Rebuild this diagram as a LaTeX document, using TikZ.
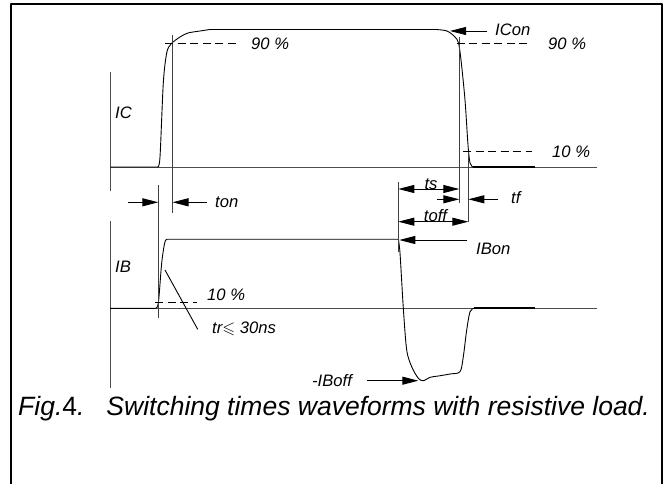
\documentclass[tikz,border=0pt]{standalone}
\usepackage{amssymb}
\usepackage{fontspec}
\setmainfont{Liberation Sans}
\usetikzlibrary{arrows.meta}
\begin{document}
\begin{tikzpicture}[x=1bp,y=-1bp, line join=round,
  lab/.style={font=\fontsize{16.6bp}{19bp}\selectfont\itshape, inner sep=0pt},
  wave/.style={line width=0.9bp},
  axis/.style={line width=0.9bp, black!70},
  guide/.style={line width=0.9bp, black!75},
  dashline/.style={dash pattern=on 8bp off 4.5bp, line width=0.8bp},
  arr/.style={-{Triangle[length=16bp,width=8bp]}, line width=0.9bp},
  darr/.style={{Triangle[length=16bp,width=8bp]}-{Triangle[length=16bp,width=8bp]}, line width=0.9bp},
]
\useasboundingbox (0,0) rectangle (667,484);
% frame
\draw[line width=2.5bp] (11.2,484) -- (11.2,3.8) -- (662.2,3.8) -- (662.2,484);

% axes
\draw[axis] (110,72) -- (110,191);
\draw[axis] (110,221) -- (110,388);
\draw[axis] (110,167) -- (597,167);
\draw[axis] (110,308.3) -- (597,308.3);

% IC waveform
\draw[wave] (110,167) -- (157.7,167)
  plot[smooth, tension=0.5] coordinates {(157.7,167) (160,157) (163.3,83) (166.7,53) (171,44) (180,37) (188,33) (200,31) (210,29.5)}
  -- (436,29.5)
  plot[smooth, tension=0.5] coordinates {(436,29.5) (447,31) (455,37) (458.5,43) (461,60) (465,100) (468,145) (470,163) (473,167)};
\draw[line width=1.8bp] (473,167) -- (535,167);

% IB waveform
\draw[wave] (110,308.3) -- (155,308.3)
  plot[smooth, tension=0.5] coordinates {(155,308.3) (158.3,303.3) (161.7,263) (165,241.7) (168.3,239.3)}
  -- (398.3,239.3)
  plot[smooth, tension=0.5] coordinates {(398.3,239.3) (400,253) (403.3,308) (406.7,350) (411.7,366.7) (418.3,378.3) (423.3,380.7) (430,377.3) (438.3,376) (450,374) (460,371.7) (463.3,356.7) (466.7,330) (470,311.7) (474,308.3)};
\draw[line width=1.8bp] (474,308.3) -- (535,308.3);

% guide lines
\coordinate (tonL) at (158.3,202.3);
\coordinate (tonR) at (172.5,202.3);
\draw[guide] (158.3,185) -- (158.3,318);
\draw[guide] (172.5,35) -- (172.5,213);
\draw[guide] (398.3,181.7) -- (398.3,252);
\draw[guide] (459.3,37) -- (459.3,203);
\draw[guide] (468.3,152) -- (468.3,222);

% dashed levels
\draw[dashline] (165,43.3) -- (238,43.3);
\draw[dashline] (456.7,43.3) -- (531.7,43.3);
\draw[dashline] (463,151.7) -- (532,151.7);
\draw[dashline] (155,302.3) -- (196.7,302.3);

% labels
\node[lab, anchor=west] (ic) at (115,113) {IC};
\node[lab, anchor=west] (ib) at (115,267) {IB};
\node[lab, anchor=west] (p90a) at (251,43.3) {90 \%};
\node[lab, anchor=west] (p90b) at (548,43.3) {90 \%};
\node[lab, anchor=west] (p10a) at (552,151.5) {10 \%};
\node[lab, anchor=west] (p10b) at (207,295) {10 \%};
\node[lab, anchor=west] (icon) at (495,29.5) {ICon};
\node[lab, anchor=west] (ton) at (215,202.3) {ton};
\node[lab, anchor=base] (ts) at (431,189.5) {ts};
\node[lab, anchor=west] (tf) at (511,198) {tf};
\node[lab, anchor=base] (toff) at (435.5,221.7) {toff};
\node[lab, anchor=west] (ibon) at (476,249) {IBon};
\node[lab, anchor=west] (tr) at (212,329.3) {tr$\leqslant$ 30ns};
\node[lab, anchor=west] (iboff) at (312,381) {-IBoff};
\node[font=\fontsize{26.5bp}{30bp}\selectfont\itshape, inner sep=0pt, anchor=west] (cap) at (18,409) {Fig.{\upshape 4}.\hspace{22bp}Switching times waveforms with resistive load.};

% arrows
\coordinate (tonLs) at (128.3,202.3);
\coordinate (tonRs) at (206.7,202.3);
\draw[arr] (tonLs) -- (tonL);
\draw[arr] (tonRs) -- (tonR);
\coordinate (tsL) at (398.3,189);
\coordinate (tsR) at (459.3,189);
\draw[darr] (tsL) -- (tsR);
\coordinate (tfLs) at (437.3,199.3);
\coordinate (tfL) at (459.3,199.3);
\coordinate (tfRs) at (498.3,199.3);
\coordinate (tfR) at (468.3,199.3);
\draw[arr] (tfLs) -- (tfL);
\draw[arr] (tfRs) -- (tfR);
\coordinate (toffL) at (398.3,221.7);
\coordinate (toffR) at (468.3,221.7);
\draw[darr] (toffL) -- (toffR);
\coordinate (iconS) at (486.7,31);
\coordinate (iconT) at (450,31);
\draw[arr] (iconS) -- (iconT);
\coordinate (ibonS) at (466.7,240);
\coordinate (ibonT) at (399.3,240);
\draw[arr] (ibonS) -- (ibonT);
\coordinate (iboffS) at (366.7,380.7);
\coordinate (iboffT) at (418.3,380.7);
\draw[arr] (iboffS) -- (iboffT);
\coordinate (trA) at (165,270);
\coordinate (trB) at (197.7,329.3);
\draw[wave] (trA) -- (trB);
\end{tikzpicture}
\end{document}
